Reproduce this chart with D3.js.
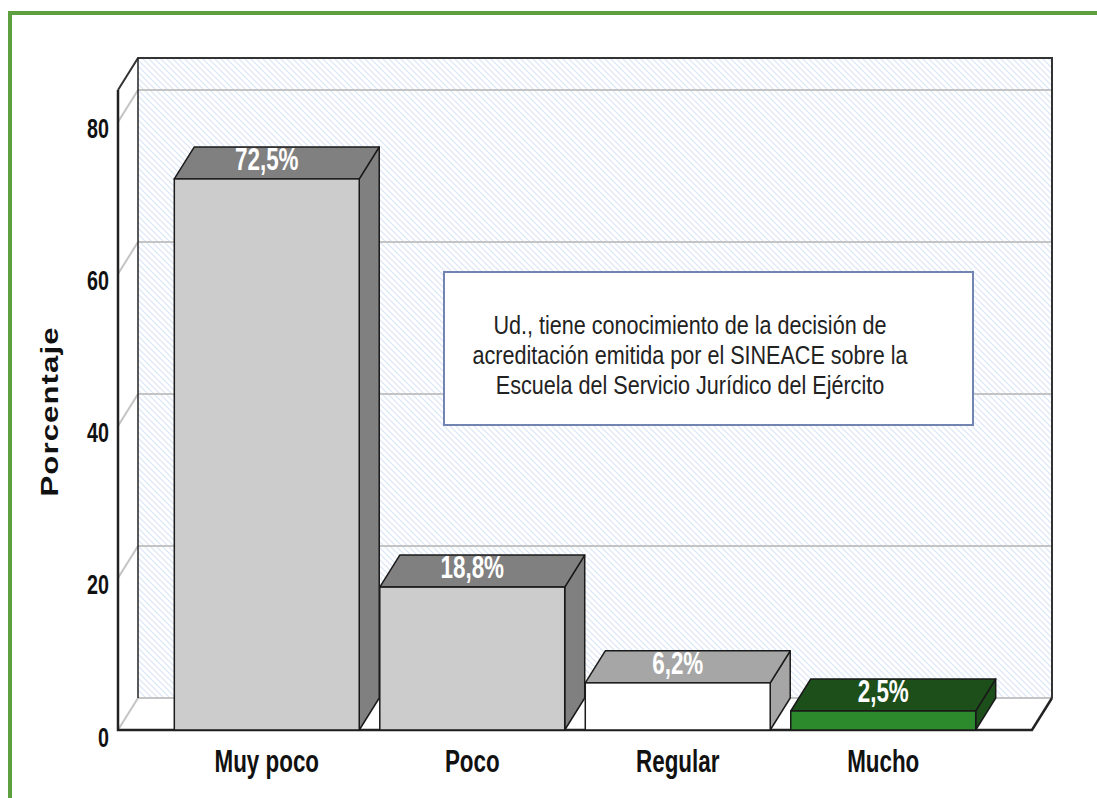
<!DOCTYPE html>
<html>
<head>
<meta charset="utf-8">
<script src="https://cdnjs.cloudflare.com/ajax/libs/d3/7.8.5/d3.min.js"></script>
<style>
  body { margin: 0; background: #fff; }
  svg { display: block; }
</style>
</head>
<body>
<script>
const categories = ["Muy poco", "Poco", "Regular", "Mucho"];
const percentages = [72.5, 18.8, 6.2, 2.5];
const valueLabels = ["72,5%", "18,8%", "6,2%", "2,5%"];
const yTicks = [0, 20, 40, 60, 80];
const boxLines = [
  "Ud., tiene conocimiento de la decisión de",
  "acreditación emitida por el SINEACE sobre la",
  "Escuela del Servicio Jurídico del Ejército"
];

// colours per bar: front, top/side
const frontColors = ["#cccccc", "#cccccc", "#ffffff", "#2c8a2c"];
const topColors = ["#808080", "#808080", "#a6a6a6", "#1d4f1b"];

const w = 1097, h = 798;
const DX = 20, DY = 32;   // depth offset of the 3d box
const sans = "'Liberation Sans', Arial, sans-serif";

const data = categories.map((c, i) => ({ cat: c, v: percentages[i], label: valueLabels[i], i: i }));

const svg = d3.select("body").append("svg")
  .attr("width", w)
  .attr("height", h);

const defs = svg.append("defs");
const pat = defs.append("pattern")
  .attr("id", "hatch")
  .attr("patternUnits", "userSpaceOnUse")
  .attr("width", 6).attr("height", 6);
pat.append("rect").attr("width", 6).attr("height", 6).attr("fill", "#ffffff");
pat.append("path")
  .attr("d", "M-1,-1L7,7M-1,5L1,7M5,-1L7,1")
  .attr("stroke", "#dae6f7")
  .attr("stroke-width", 1.2);

// green frame
svg.append("rect")
  .attr("x", 10).attr("y", 13)
  .attr("width", 1200).attr("height", 900)
  .attr("fill", "none")
  .attr("stroke", "#5e9f3f")
  .attr("stroke-width", 4);

const xScale = d3.scaleBand()
  .domain(categories)
  .range([118, 1032])
  .paddingInner(0.1)
  .paddingOuter(0.274);

const yScale = d3.scaleLinear()
  .domain([0, 84.2])
  .range([730, 90]);

const x0 = xScale.range()[0], x1 = xScale.range()[1];
const yTop = yScale.range()[1], yBot = yScale.range()[0];

// left wall
svg.append("polygon")
  .attr("points", [[x0, yTop], [x0 + DX, yTop - DY], [x0 + DX, yBot - DY], [x0, yBot]].join(" "))
  .attr("fill", "#ffffff");

// back wall
svg.append("rect")
  .attr("x", x0 + DX).attr("y", yTop - DY)
  .attr("width", x1 - x0).attr("height", yBot - yTop)
  .attr("fill", "url(#hatch)");

// floor
svg.append("polygon")
  .attr("points", [[x0, yBot], [x0 + DX, yBot - DY], [x1 + DX, yBot - DY], [x1, yBot]].join(" "))
  .attr("fill", "#ffffff");

// grid lines on the walls
const grid = svg.append("g");
grid.selectAll(".gb").data(yTicks).enter().append("line")
  .attr("x1", x0 + DX).attr("x2", x1 + DX)
  .attr("y1", d => yScale(d) - DY).attr("y2", d => yScale(d) - DY)
  .attr("stroke", "#c4c4c4").attr("stroke-width", 2);
grid.selectAll(".gl").data(yTicks).enter().append("line")
  .attr("x1", x0).attr("x2", x0 + DX)
  .attr("y1", d => yScale(d)).attr("y2", d => yScale(d) - DY)
  .attr("stroke", "#c4c4c4").attr("stroke-width", 2);

// box outline
svg.append("path")
  .attr("d", `M${x0},${yTop}L${x0 + DX},${yTop - DY}L${x1 + DX},${yTop - DY}L${x1 + DX},${yBot - DY}`)
  .attr("fill", "none").attr("stroke", "#333").attr("stroke-width", 2);
svg.append("line")
  .attr("x1", x0 + DX).attr("x2", x0 + DX)
  .attr("y1", yTop - DY).attr("y2", yBot - DY)
  .attr("stroke", "#222").attr("stroke-width", 1.5);
svg.append("path")
  .attr("d", `M${x0},${yTop}L${x0},${yBot}L${x1},${yBot}L${x1 + DX},${yBot - DY}`)
  .attr("fill", "none").attr("stroke", "#222").attr("stroke-width", 2.5);

// bars
const bars = svg.append("g").selectAll("g").data(data).enter().append("g");
const bw = xScale.bandwidth();

bars.append("polygon")  // side
  .attr("points", d => {
    const a = xScale(d.cat) + bw, t = yScale(d.v);
    return [[a, t], [a + DX, t - DY], [a + DX, yBot - DY], [a, yBot]].join(" ");
  })
  .attr("fill", d => topColors[d.i])
  .attr("stroke", "#1a1a1a").attr("stroke-width", 1.5).attr("stroke-linejoin", "round");

bars.append("polygon")  // top
  .attr("points", d => {
    const a = xScale(d.cat), t = yScale(d.v);
    return [[a, t], [a + DX, t - DY], [a + bw + DX, t - DY], [a + bw, t]].join(" ");
  })
  .attr("fill", d => topColors[d.i])
  .attr("stroke", "#1a1a1a").attr("stroke-width", 1.5).attr("stroke-linejoin", "round");

bars.append("rect")  // front
  .attr("x", d => xScale(d.cat))
  .attr("y", d => yScale(d.v))
  .attr("width", bw)
  .attr("height", d => yBot - yScale(d.v))
  .attr("fill", d => frontColors[d.i])
  .attr("stroke", "#1a1a1a").attr("stroke-width", 1.5);

bars.append("text")
  .text(d => d.label)
  .attr("transform", d => `translate(${xScale(d.cat) + bw / 2},${yScale(d.v) - DY + 23}) scale(0.83,1.15)`)
  .attr("text-anchor", "middle")
  .attr("fill", "#ffffff")
  .style("font-family", sans)
  .style("font-weight", "bold")
  .style("font-size", "27px");

// axes
const yAxis = svg.append("g")
  .attr("transform", `translate(${x0},0)`)
  .call(d3.axisLeft(yScale).tickValues(yTicks).tickSize(0).tickPadding(0));
yAxis.select(".domain").remove();
yAxis.selectAll("text")
  .attr("dy", null).attr("y", 0).attr("x", 0)
  .attr("transform", "translate(-9,16) scale(0.82,1.14)")
  .attr("fill", "#111")
  .style("font-family", sans)
  .style("font-weight", "bold")
  .style("font-size", "24px");

const xAxis = svg.append("g")
  .attr("transform", `translate(0,${yBot})`)
  .call(d3.axisBottom(xScale).tickSize(0));
xAxis.select(".domain").remove();
xAxis.selectAll("text")
  .attr("dy", null).attr("y", 0)
  .attr("transform", "translate(0,42) scale(0.83,1.14)")
  .attr("fill", "#111")
  .style("font-family", sans)
  .style("font-weight", "bold")
  .style("font-size", "27px");

svg.append("text")
  .text("Porcentaje")
  .attr("transform", "translate(58,412) rotate(-90) scale(1.3,1)")
  .attr("text-anchor", "middle")
  .attr("textLength", 130)
  .attr("lengthAdjust", "spacing")
  .attr("fill", "#111")
  .style("font-family", sans)
  .style("font-weight", "bold")
  .style("font-size", "24px");

// note box
svg.append("rect")
  .attr("x", 444).attr("y", 272)
  .attr("width", 529).attr("height", 153)
  .attr("fill", "#ffffff")
  .attr("stroke", "#7284b2")
  .attr("stroke-width", 2);

svg.append("g").selectAll("text").data(boxLines).enter().append("text")
  .text(d => d)
  .attr("transform", (d, i) => `translate(690,${334 + i * 30}) scale(0.83,1)`)
  .attr("text-anchor", "middle")
  .attr("fill", "#222")
  .style("font-family", sans)
  .style("font-size", "26px");
</script>
</body>
</html>
